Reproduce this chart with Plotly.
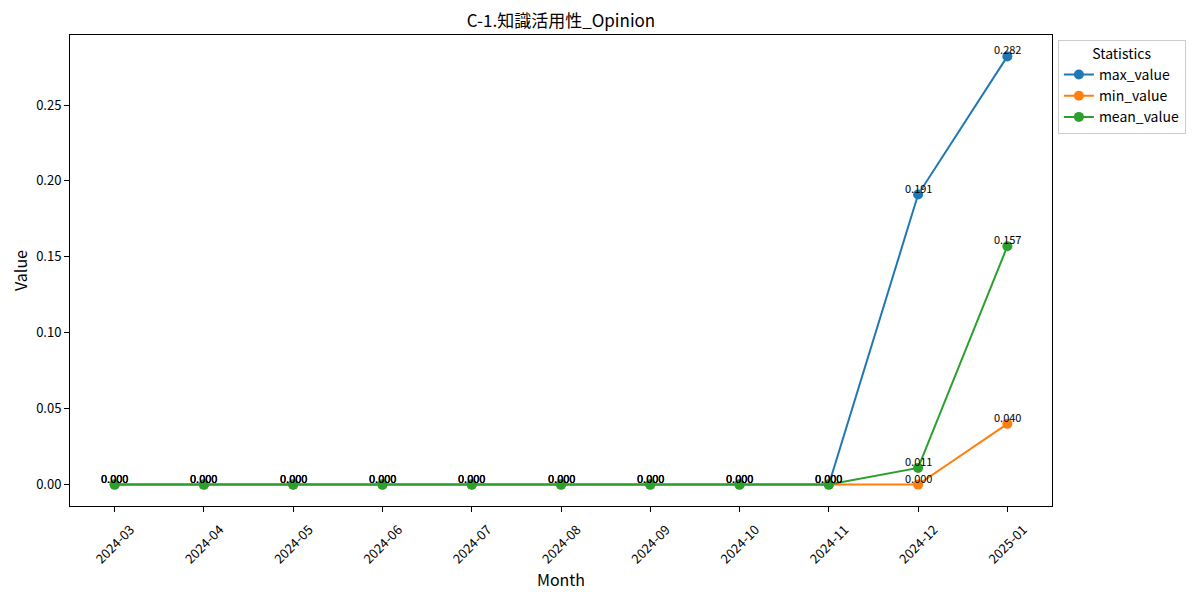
import plotly.graph_objects as go

FONT = "Noto Sans CJK JP"

months = ["2024-03", "2024-04", "2024-05", "2024-06", "2024-07", "2024-08",
          "2024-09", "2024-10", "2024-11", "2024-12", "2025-01"]
max_value = [0, 0, 0, 0, 0, 0, 0, 0, 0, 0.191, 0.282]
min_value = [0, 0, 0, 0, 0, 0, 0, 0, 0, 0.000, 0.040]
mean_value = [0, 0, 0, 0, 0, 0, 0, 0, 0, 0.011, 0.157]

series = [
    ("max_value", max_value, "#1f77b4"),
    ("min_value", min_value, "#ff7f0e"),
    ("mean_value", mean_value, "#2ca02c"),
]

fig = go.Figure()
annotations = []
for name, vals, color in series:
    fig.add_trace(go.Scatter(
        x=months, y=vals, name=name, mode="lines+markers",
        line=dict(color=color, width=2),
        marker=dict(color=color, size=10),
    ))
    for m, v in zip(months, vals):
        annotations.append(dict(
            x=m, y=v, text=f"{v:.3f}", showarrow=False,
            xanchor="center", yanchor="bottom", yshift=-3,
            font=dict(family=FONT, size=11, color="black"),
        ))

axis_common = dict(
    showline=True, linecolor="black", linewidth=1, mirror=True,
    ticks="outside", ticklen=5, tickcolor="black", showgrid=False,
    zeroline=False, tickfont=dict(family=FONT, size=13, color="black"),
)

# the page body adds an 8px offset, so the margins are shifted to compensate
fig.update_layout(
    width=1200, height=595,
    paper_bgcolor="white", plot_bgcolor="white",
    margin=dict(l=62, r=156, t=27, b=97, autoexpand=False),
    title=dict(text="C-1.知識活用性_Opinion", x=0.5, xref="paper",
               y=1 - 13 / 595, yanchor="middle",
               font=dict(family=FONT, size=17, color="black")),
    xaxis=dict(type="category", range=[-0.5, 10.5], tickangle=-45,
               ticklabelshift=16, ticklabelstandoff=5,
               title=dict(text="Month", standoff=4,
                          font=dict(family=FONT, size=16, color="black")),
               **axis_common),
    yaxis=dict(range=[-0.0141, 0.2961], dtick=0.05, tickformat=".2f",
               title=dict(text="Value", standoff=8,
                          font=dict(family=FONT, size=16, color="black")),
               **axis_common),
    legend=dict(x=1.006, y=0.99, xanchor="left", yanchor="top",
                bordercolor="#cccccc", borderwidth=1,
                title=dict(text="Statistics", side="top center",
                           font=dict(family=FONT, size=14, color="black")),
                font=dict(family=FONT, size=14, color="black")),
    annotations=annotations,
    showlegend=True,
)

fig.write_html("out.html")
